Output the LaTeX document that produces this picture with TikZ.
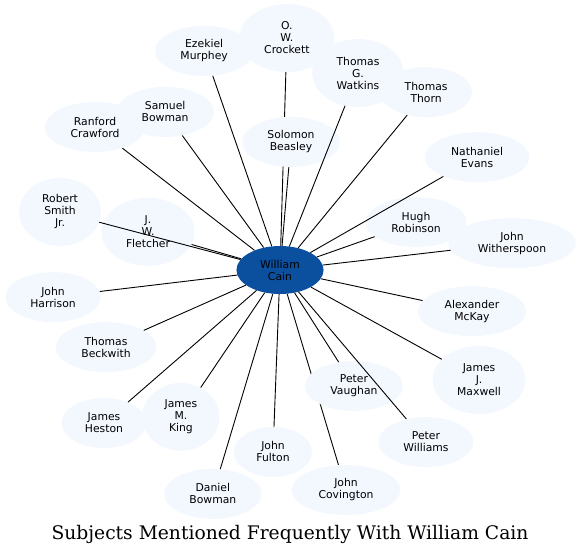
\documentclass[tikz,border=0pt]{standalone}
\usepackage{fontspec}
\setsansfont{DejaVu Sans}
\newfontfamily\titlefont{DejaVu Serif}
\usepackage{xcolor}
\usetikzlibrary{shapes.geometric}
\definecolor{personfill}{RGB}{243,248,255}
\definecolor{cainblue}{RGB}{11,80,158}
\pgfdeclarelayer{background}
\pgfsetlayers{background,main}

\begin{document}
\begin{tikzpicture}[person/.style={ellipse, fill=personfill, inner xsep=11pt, inner ysep=2pt,
      minimum height=50pt, align=center, font=\fontsize{10.8}{12}\sffamily},
    tall/.style={minimum height=68pt},
    main/.style={person, fill=cainblue, minimum height=48pt},
    edge/.style={draw, line width=0.9pt}]
    \useasboundingbox (0,0) rectangle (582pt,555pt);
    \node [main] (cain) at (280pt,285pt) {William\\Cain};
    % outer ring, clockwise from the top
    \path (cain) ++ (88.3:232.1pt) node [person,tall] (ow_crockett) {O.\\W.\\Crockett};
    \path (cain) ++ (68.4:211.9pt) node [person,tall] (tg_watkins) {Thomas\\G.\\Watkins};
    \path (cain) ++ (50.6:230.2pt) node [person] (t_thorn) {Thomas\\Thorn};
    \path (cain) ++ (29.8:227.1pt) node [person] (n_evans) {Nathaniel\\Evans};
    \path (cain) ++ (6.6:233.6pt) node [person] (j_witherspoon) {John\\Witherspoon};
    \path (cain) ++ (-12.1:196.3pt) node [person] (a_mckay) {Alexander\\McKay};
    \path (cain) ++ (-28.9:227.4pt) node [person,tall] (jj_maxwell) {James\\J.\\Maxwell};
    \path (cain) ++ (-49.7:225.6pt) node [person] (p_williams) {Peter\\Williams};
    \path (cain) ++ (-73.3:229.7pt) node [person] (j_covington) {John\\Covington};
    \path (cain) ++ (-92.2:182.1pt) node [person] (j_fulton) {John\\Fulton};
    \path (cain) ++ (-106.7:233.8pt) node [person] (d_bowman) {Daniel\\Bowman};
    \path (cain) ++ (-124.0:177.2pt) node [person,tall] (jm_king) {James\\M.\\King};
    \path (cain) ++ (-139.0:233.2pt) node [person] (j_heston) {James\\Heston};
    \path (cain) ++ (-156.1:190.3pt) node [person] (t_beckwith) {Thomas\\Beckwith};
    \path (cain) ++ (-173.2:228.6pt) node [person] (j_harrison) {John\\Harrison};
    \path (cain) ++ (165.2:227.5pt) node [person,tall] (rs_jr) {Robert\\Smith\\Jr.};
    \path (cain) ++ (142.3:233.8pt) node [person] (r_crawford) {Ranford\\Crawford};
    \path (cain) ++ (126.0:195.4pt) node [person] (s_bowman) {Samuel\\Bowman};
    \path (cain) ++ (109.1:231.8pt) node [person] (e_murphey) {Ezekiel\\Murphey};
    % inner ring
    \path (cain) ++ (85.1:128.5pt) node [person] (s_beasley) {Solomon\\Beasley};
    \path (cain) ++ (19.4:144.2pt) node [person] (h_robinson) {Hugh\\Robinson};
    \path (cain) ++ (-57.5:137.6pt) node [person] (p_vaughan) {Peter\\Vaughan};
    \path (cain) ++ (163.9:137.4pt) node [person,tall] (jw_fletcher) {J.\\W.\\Fletcher};
    % these two run behind the inner nodes
    \begin{pgfonlayer}{background}
      \draw [edge] (cain) -- (ow_crockett);
      \draw [edge] (cain) -- (j_covington);
    \end{pgfonlayer}
    \draw [edge] (cain) -- (tg_watkins);
    \draw [edge] (cain) -- (t_thorn);
    \draw [edge] (cain) -- (n_evans);
    \draw [edge] (cain) -- (j_witherspoon);
    \draw [edge] (cain) -- (a_mckay);
    \draw [edge] (cain) -- (jj_maxwell);
    \draw [edge] (cain) -- (p_williams);
    \draw [edge] (cain) -- (j_fulton);
    \draw [edge] (cain) -- (d_bowman);
    \draw [edge] (cain) -- (jm_king);
    \draw [edge] (cain) -- (j_heston);
    \draw [edge] (cain) -- (t_beckwith);
    \draw [edge] (cain) -- (j_harrison);
    \draw [edge] (cain) -- (rs_jr);
    \draw [edge] (cain) -- (r_crawford);
    \draw [edge] (cain) -- (s_bowman);
    \draw [edge] (cain) -- (e_murphey);
    \draw [edge] (cain) -- (s_beasley);
    \draw [edge] (cain) -- (h_robinson);
    \draw [edge] (cain) -- (p_vaughan);
    \draw [edge] (cain) -- (jw_fletcher);
    \node [anchor=base, inner sep=0pt] (title) at (290pt,15pt) {\titlefont\fontsize{18.7}{22}\selectfont Subjects Mentioned Frequently With William Cain};
\end{tikzpicture}
\end{document}
